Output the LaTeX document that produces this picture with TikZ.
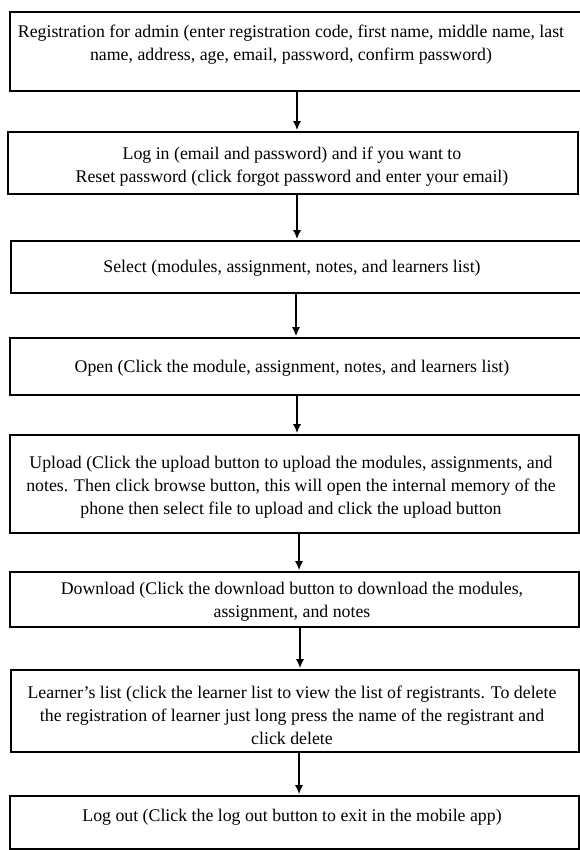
\documentclass[tikz,border=0pt]{standalone}
\usepackage{fontspec}
\setmainfont{Liberation Serif}
\usetikzlibrary{arrows.meta}

\tikzset{
  stepbox/.style={draw, rectangle, line width=1.8pt, inner sep=0pt},
  steptext/.style={align=center, inner sep=0pt, font=\fontsize{17.8}{23}\selectfont},
  flow/.style={-{Latex[length=9pt,width=8pt]}, line width=1.5pt}
}

% box given by left, top, right, bottom (y grows downward)
\newcommand{\flowbox}[5]{%
  \node[stepbox, minimum width={#4-#2}, minimum height={#5-#3}]
    (#1) at ({(#2+#4)/2},{(#3+#5)/2}) {};}

\begin{document}
\begin{tikzpicture}[x=1pt, y=-1pt]
  \fill[white] (0,0) rectangle (580,850);
  \useasboundingbox (0,0) rectangle (580,850);

  % boxes
  \flowbox{b1}{10}{12}{581}{91}
  \flowbox{b2}{8}{132}{578}{194}
  \flowbox{b3}{11}{241}{581}{293}
  \flowbox{b4}{10}{338}{581}{395}
  \flowbox{b5}{10}{435}{579}{533}
  \flowbox{b6}{10}{572}{579}{627}
  \flowbox{b7}{11}{670}{579}{752}
  \flowbox{b8}{10}{796}{579}{849}

  % texts
  \node[steptext] (t1) at (291,45) {Registration for admin (enter registration code, first name, middle name, last\\name, address, age, email, password, confirm password)};
  \node[steptext] (t2) at (292,167) {Log in (email and password) and if you want to\\Reset password (click forgot password and enter your email)};
  \node[steptext] (t3) at (292,268) {Select (modules, assignment, notes, and learners list)};
  \node[steptext] (t4) at (292,368) {Open (Click the module, assignment, notes, and learners list)};
  \node[steptext] (t5) at (291,487) {Upload (Click the upload button to upload the modules, assignments, and\\notes. Then click browse button, this will open the internal memory of the\\phone then select file to upload and click the upload button};
  \node[steptext] (t6) at (292,602) {Download (Click the download button to download the modules,\\assignment, and notes};
  \node[steptext] (t7) at (292,715) {Learner’s list (click the learner list to view the list of registrants. To delete\\the registration of learner just long press the name of the registrant and\\click delete};
  \node[steptext] (t8) at (292,817) {Log out (Click the log out button to exit in the mobile app)};

  % vertical lines the connectors run on
  \coordinate (x1) at (297,0);
  \coordinate (x2) at (297,0);
  \coordinate (x3) at (296,0);
  \coordinate (x4) at (297,0);
  \coordinate (x5) at (299,0);
  \coordinate (x6) at (300,0);
  \coordinate (x7) at (299,0);

  % connectors
  \draw[flow] (b1.south -| x1) -- ([yshift=0.9pt]b2.north -| x1);
  \draw[flow] (b2.south -| x2) -- ([yshift=0.9pt]b3.north -| x2);
  \draw[flow] (b3.south -| x3) -- ([yshift=0.9pt]b4.north -| x3);
  \draw[flow] (b4.south -| x4) -- ([yshift=0.9pt]b5.north -| x4);
  \draw[flow] (b5.south -| x5) -- ([yshift=0.9pt]b6.north -| x5);
  \draw[flow] (b6.south -| x6) -- ([yshift=0.9pt]b7.north -| x6);
  \draw[flow] (b7.south -| x7) -- ([yshift=0.9pt]b8.north -| x7);
\end{tikzpicture}
\end{document}
